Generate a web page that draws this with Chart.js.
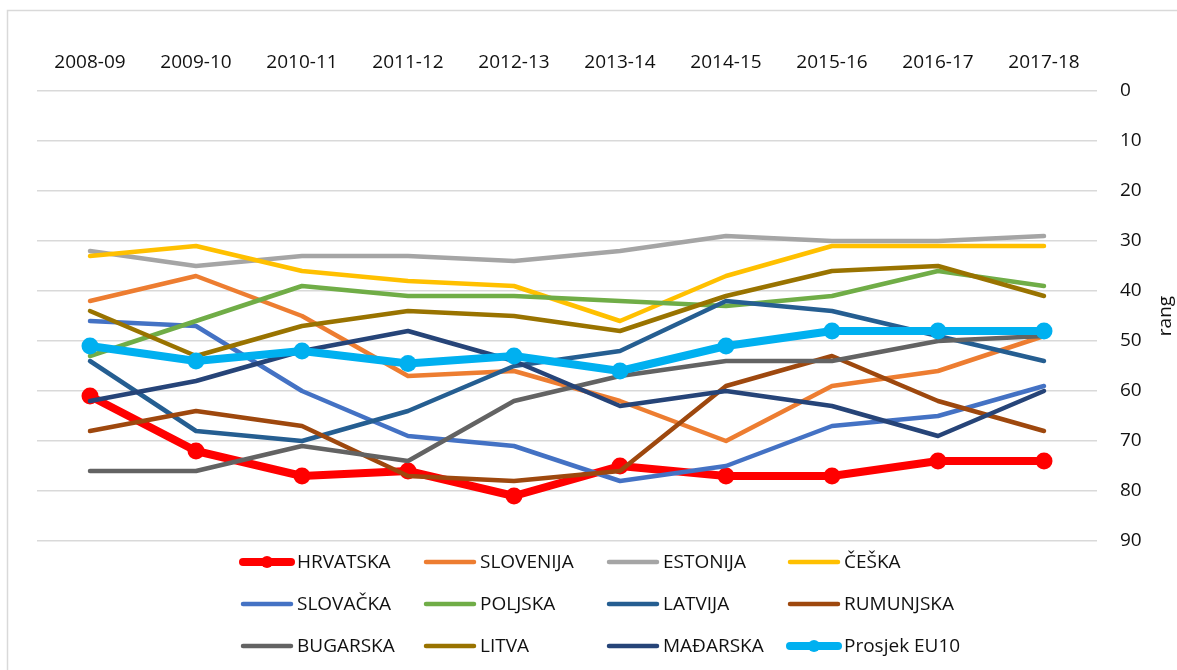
<!DOCTYPE html>
<html lang="hr">
  <head>
    <meta charset="UTF-8" />
    <meta name="viewport" content="width=device-width, initial-scale=1.0" />
    <script src="https://cdn.jsdelivr.net/npm/chart.js@4.4.0/dist/chart.umd.min.js"></script>
    <title>Rang zemalja EU10</title>
    <style>
      body {
        margin: 0;
        padding: 0;
        background: #fff;
      }

      .container {
        width: 1177px;
        height: 670px;
        position: relative;
      }
    </style>
  </head>
  <body>
    <div class="container">
      <canvas id="rangChart"></canvas>
    </div>
    <script>
      const seasons = ['2008-09', '2009-10', '2010-11', '2011-12', '2012-13', '2013-14', '2014-15', '2015-16', '2016-17', '2017-18']

      const hrvatska = [61, 72, 77, 76, 81, 75, 77, 77, 74, 74]
      const slovenija = [42, 37, 45, 57, 56, 62, 70, 59, 56, 49]
      const estonija = [32, 35, 33, 33, 34, 32, 29, 30, 30, 29]
      const ceska = [33, 31, 36, 38, 39, 46, 37, 31, 31, 31]
      const slovacka = [46, 47, 60, 69, 71, 78, 75, 67, 65, 59]
      const poljska = [53, 46, 39, 41, 41, 42, 43, 41, 36, 39]
      const latvija = [54, 68, 70, 64, 55, 52, 42, 44, 49, 54]
      const rumunjska = [68, 64, 67, 77, 78, 76, 59, 53, 62, 68]
      const bugarska = [76, 76, 71, 74, 62, 57, 54, 54, 50, 49]
      const litva = [44, 53, 47, 44, 45, 48, 41, 36, 35, 41]
      const madarska = [62, 58, 52, 48, 54, 63, 60, 63, 69, 60]
      const prosjekEU10 = [51, 54, 52, 54.5, 53, 56, 51, 48, 48, 48]

      const rangTicks = [0, 10, 20, 30, 40, 50, 60, 70, 80, 90]

      const FONT = '"Open Sans", "DejaVu Sans", sans-serif'
      const TEXT = '#111111'

      const series = [
        { label: 'HRVATSKA', data: hrvatska, color: '#ff0000', bold: true },
        { label: 'SLOVENIJA', data: slovenija, color: '#ed7d31' },
        { label: 'ESTONIJA', data: estonija, color: '#a5a5a5' },
        { label: 'ČEŠKA', data: ceska, color: '#ffc000' },
        { label: 'SLOVAČKA', data: slovacka, color: '#4472c4' },
        { label: 'POLJSKA', data: poljska, color: '#70ad47' },
        { label: 'LATVIJA', data: latvija, color: '#255e91' },
        { label: 'RUMUNJSKA', data: rumunjska, color: '#9e480e' },
        { label: 'BUGARSKA', data: bugarska, color: '#636363' },
        { label: 'LITVA', data: litva, color: '#997300' },
        { label: 'MAĐARSKA', data: madarska, color: '#264478' },
        { label: 'Prosjek EU10', data: prosjekEU10, color: '#00b0f0', bold: true },
      ]

      // outer frame like the Excel chart border
      const frame = {
        id: 'frame',
        beforeDraw(chart) {
          const ctx = chart.ctx
          ctx.save()
          ctx.strokeStyle = '#d9d9d9'
          ctx.lineWidth = 1.5
          ctx.strokeRect(7.5, 10.5, 1400, 1000)
          ctx.restore()
        },
      }

      // 4 x 3 legend grid under the plot
      const gridLegend = {
        id: 'gridLegend',
        afterDraw(chart) {
          const ctx = chart.ctx
          const textX = [297, 480, 663, 844]
          const rowY = [562, 604, 646]
          ctx.save()
          ctx.font = '19px ' + FONT
          ctx.textBaseline = 'middle'
          ctx.lineCap = 'round'
          chart.data.datasets.forEach((ds, i) => {
            const tx = textX[i % 4]
            const y = rowY[Math.floor(i / 4)]
            const x0 = tx - 54
            const x1 = tx - 6
            ctx.strokeStyle = ds.borderColor
            ctx.lineWidth = ds.borderWidth
            ctx.beginPath()
            ctx.moveTo(x0, y)
            ctx.lineTo(x1, y)
            ctx.stroke()
            if (ds.pointRadius > 0) {
              ctx.fillStyle = ds.borderColor
              ctx.beginPath()
              ctx.arc((x0 + x1) / 2, y, 6, 0, Math.PI * 2)
              ctx.fill()
            }
            ctx.fillStyle = TEXT
            ctx.fillText(ds.label, tx, y + 1)
          })
          ctx.restore()
        },
      }

      // y title on the right, reading bottom to top
      const rangTitle = {
        id: 'rangTitle',
        afterDraw(chart) {
          const ctx = chart.ctx
          const area = chart.chartArea
          ctx.save()
          ctx.font = '19px ' + FONT
          ctx.fillStyle = TEXT
          ctx.textAlign = 'center'
          ctx.textBaseline = 'middle'
          ctx.translate(1166, (area.top + area.bottom) / 2)
          ctx.rotate(-Math.PI / 2)
          ctx.fillText('rang', 0, 0)
          ctx.restore()
        },
      }

      const n = series.length
      const datasets = series.map((s, i) => ({
        label: s.label,
        data: s.data,
        borderColor: s.color,
        backgroundColor: s.color,
        borderWidth: s.bold ? 8 : 4.5,
        pointRadius: s.bold ? 8.5 : 0,
        pointHoverRadius: s.bold ? 8.5 : 0,
        pointBorderWidth: 0,
        borderJoinStyle: 'round',
        borderCapStyle: 'round',
        tension: 0,
        order: n - 1 - i,
      }))

      new Chart(document.getElementById('rangChart').getContext('2d'), {
        type: 'line',
        data: { labels: seasons, datasets },
        plugins: [frame, gridLegend, rangTitle],
        options: {
          responsive: true,
          maintainAspectRatio: false,
          animation: false,
          layout: { padding: { left: 37, right: 0, top: 0, bottom: 129 } },
          plugins: {
            legend: { display: false },
            tooltip: { enabled: false },
          },
          scales: {
            x: {
              position: 'top',
              offset: true,
              grid: { display: false },
              border: { display: false },
              ticks: {
                padding: 9,
                maxRotation: 0,
                autoSkip: false,
                color: TEXT,
                font: { family: FONT, size: 19 },
              },
              afterFit: (scale) => {
                scale.height = 91
              },
            },
            y: {
              position: 'right',
              reverse: true,
              min: 0,
              max: 90,
              afterBuildTicks: (scale) => {
                scale.ticks = rangTicks.map((v) => ({ value: v }))
              },
              grid: { color: '#d9d9d9', lineWidth: 1.5, drawTicks: false },
              border: { display: false },
              ticks: {
                padding: 23,
                color: TEXT,
                font: { family: FONT, size: 19 },
              },
              afterFit: (scale) => {
                scale.width = 80
              },
            },
          },
        },
      })
    </script>
  </body>
</html>
